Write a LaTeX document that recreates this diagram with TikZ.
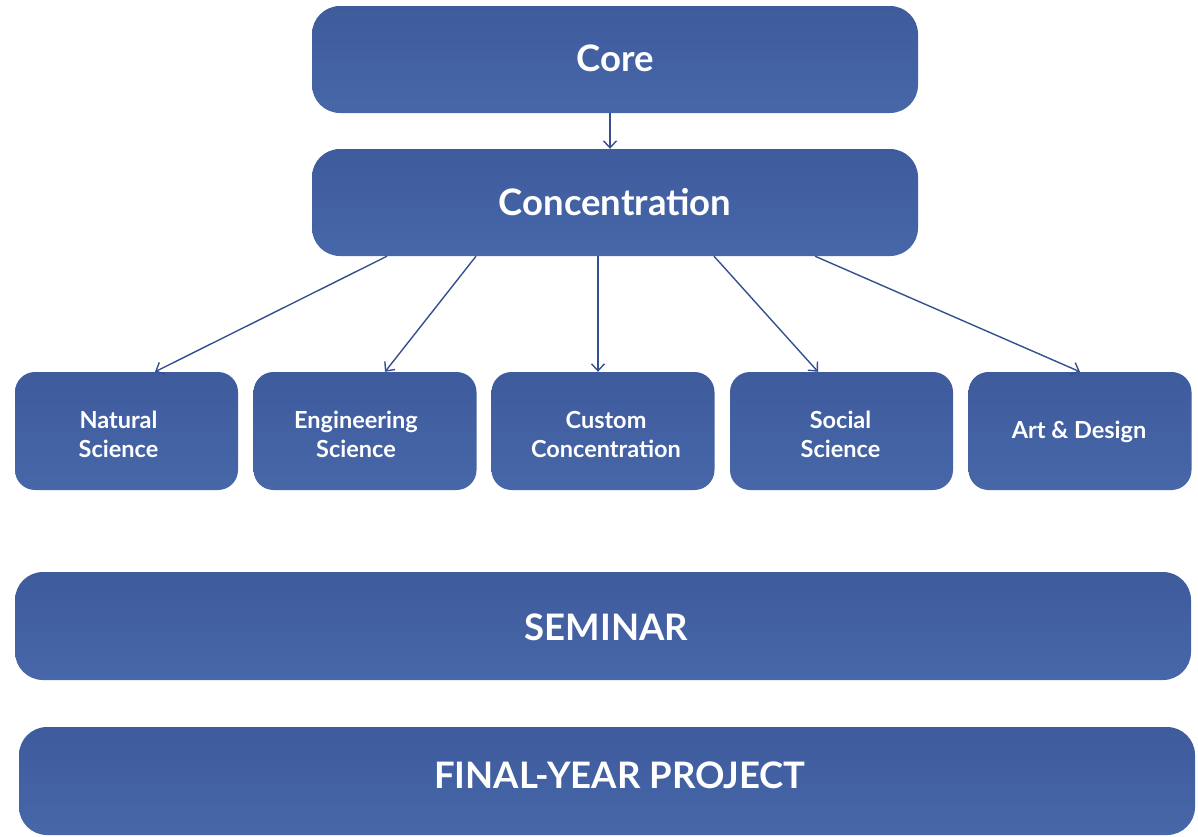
\documentclass[tikz,border=0pt]{standalone}
\usepackage{fontspec}
\setmainfont{Lato}
\usetikzlibrary{arrows.meta}
\definecolor{boxtop}{HTML}{3E5B9C}
\definecolor{boxbot}{HTML}{4767A9}
\definecolor{arrowblue}{HTML}{34508F}
\tikzset{
  blockbox/.style={rectangle, rounded corners=28pt, top color=boxtop, bottom color=boxbot,
    draw=none, inner sep=0pt},
  bigbox/.style={blockbox},
  smallbox/.style={blockbox, rounded corners=20pt, minimum width=223pt, minimum height=118pt},
  bigtext/.style={text=white, inner sep=0pt, align=center, font=\fontsize{36.5}{40}\selectfont\bfseries},
  smalltext/.style={text=white, inner sep=0pt, align=center, font=\fontsize{23.5}{29}\selectfont\bfseries},
  link/.style={draw=arrowblue, line width=1.4pt, -{Straight Barb[length=7pt,width=13pt,line width=1.4pt]}}
}
\begin{document}
\begin{tikzpicture}[x=1pt,y=-1pt]
\useasboundingbox (0,0) rectangle (1198,836);
\node[bigbox, minimum width=606pt, minimum height=107pt] (core) at (615,59.5) {};
\node[bigbox, minimum width=606pt, minimum height=107pt] (conc) at (615,202.5) {};
\node[smallbox] (nat) at (126.5,431) {};
\node[smallbox] (eng) at (365,431) {};
\node[smallbox] (cus) at (603,431) {};
\node[smallbox] (soc) at (841.5,431) {};
\node[smallbox] (art) at (1080,431) {};
\node[bigbox, minimum width=1176pt, minimum height=108pt] (sem) at (603,626) {};
\node[bigbox, minimum width=1176pt, minimum height=108pt] (fyp) at (607,781) {};
\node[bigtext] (coreT) at ([yshift=1pt]core.center) {Core};
\node[bigtext] (concT) at ([yshift=0pt]conc.center) {Concentration};
\node[smalltext] (natT) at ([xshift=-8pt,yshift=-3.5pt]nat.center) {Natural\\Science};
\node[smalltext] (engT) at ([xshift=-9pt,yshift=-3.5pt]eng.center) {Engineering\\Science};
\node[smalltext] (cusT) at ([xshift=3pt,yshift=-3.5pt]cus.center) {Custom\\Concentration};
\node[smalltext] (socT) at ([xshift=-1pt,yshift=-3.5pt]soc.center) {Social\\Science};
\node[smalltext] (artT) at ([xshift=-1pt,yshift=-1pt]art.center) {Art \& Design};
\node[bigtext] (semT) at ([xshift=3.5pt,yshift=-1pt]sem.center) {SEMINAR};
\node[bigtext] (fypT) at ([xshift=13pt,yshift=6pt]fyp.center) {FINAL-YEAR PROJECT};
\draw[link] ([xshift=-5pt]core.south) -- ([xshift=-5pt]conc.north);
\draw[link] ([xshift=-228pt]conc.south) -- ([xshift=28.5pt]nat.north);
\draw[link] ([xshift=-139pt]conc.south) -- ([xshift=20pt]eng.north);
\draw[link] ([xshift=-17pt]conc.south) -- ([xshift=-5pt]cus.north);
\draw[link] ([xshift=99pt]conc.south) -- ([xshift=-23.5pt]soc.north);
\draw[link] ([xshift=200pt]conc.south) -- (art.north);
\end{tikzpicture}
\end{document}
